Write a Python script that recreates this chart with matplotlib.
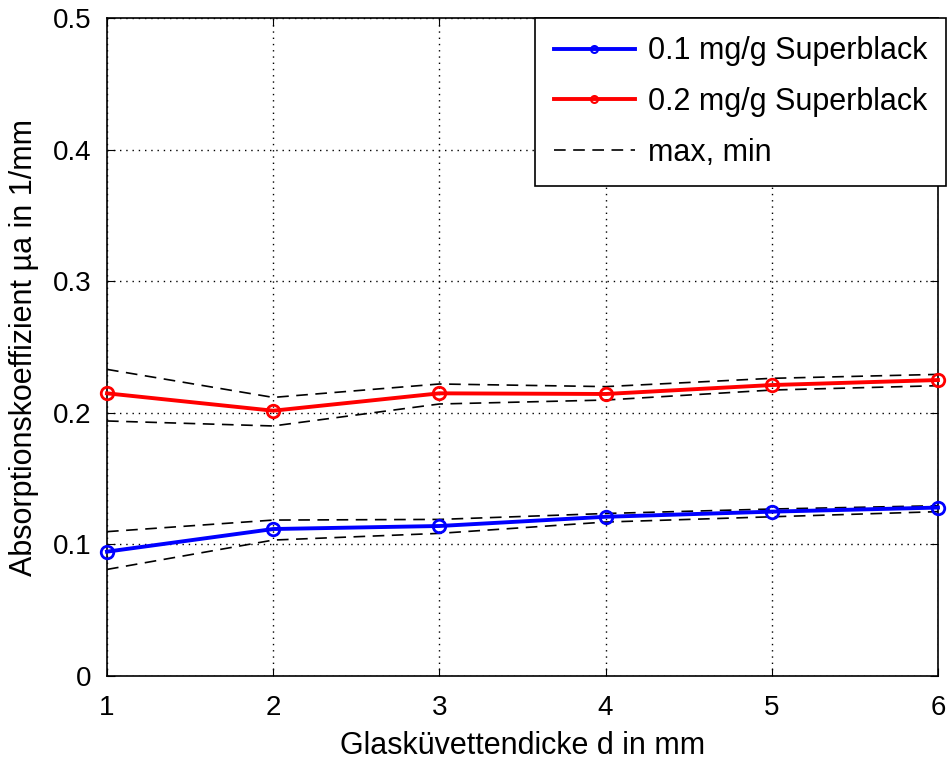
import matplotlib
matplotlib.use("Agg")
import matplotlib.pyplot as plt
from matplotlib.lines import Line2D

plt.rcParams['font.family'] = ['Liberation Sans', 'DejaVu Sans']

# Werte
d_mm = [1, 2, 3, 4, 5, 6]
mua_01 = [0.0945, 0.1117, 0.1140, 0.1210, 0.1249, 0.1280]
mua_01_max = [0.1097, 0.1185, 0.1190, 0.1235, 0.1269, 0.1294]
mua_01_min = [0.0810, 0.1033, 0.1084, 0.1170, 0.1210, 0.1249]
mua_02 = [0.2148, 0.2016, 0.2148, 0.2143, 0.2211, 0.2249]
mua_02_max = [0.2330, 0.2117, 0.2219, 0.2199, 0.2262, 0.2292]
mua_02_min = [0.1938, 0.1900, 0.2067, 0.2097, 0.2173, 0.2206]

fig = plt.figure(figsize=(9.51, 7.65), dpi=100)
ax = fig.add_axes([0.1125, 0.1163, 0.8738, 0.8602])

dash = (0, (7, 4.5))
for ys in [mua_01_max, mua_01_min, mua_02_max, mua_02_min]:
    ax.plot(d_mm, ys, color='black', linestyle=dash, linewidth=1.2, zorder=2)

ax.plot(d_mm, mua_01, color='blue', linewidth=2.8, marker='o', markersize=9,
        markerfacecolor='none', markeredgewidth=2, zorder=3, clip_on=False)
ax.plot(d_mm, mua_02, color='red', linewidth=2.8, marker='o', markersize=9,
        markerfacecolor='none', markeredgewidth=2, zorder=3, clip_on=False)

ax.set_xlim(1, 6)
ax.set_ylim(0, 0.5)
ax.set_xticks(d_mm)
ax.set_yticks([0, 0.1, 0.2, 0.3, 0.4, 0.5])
ax.set_yticklabels(['0', '0.1', '0.2', '0.3', '0.4', '0.5'])
ax.tick_params(labelsize=20, direction='in', length=6, top=True, right=True)
ax.tick_params(axis='x', pad=14)
ax.tick_params(axis='y', pad=11)
ax.grid(True, color='black', linestyle=(0, (1, 3.5)), linewidth=1)
for s in ax.spines.values():
    s.set_linewidth(1.2)

ax.set_xlabel('Glasküvettendicke d in mm', fontsize=22, labelpad=7)
ax.set_ylabel('Absorptionskoeffizient µa in 1/mm', fontsize=22, labelpad=10)

handles = [
    Line2D([], [], color='blue', linewidth=2.8, marker='o', markersize=5,
           markerfacecolor='none', markeredgewidth=1.5),
    Line2D([], [], color='red', linewidth=2.8, marker='o', markersize=5,
           markerfacecolor='none', markeredgewidth=1.5),
    Line2D([], [], color='black', linestyle=dash, linewidth=1.2),
]
labels = ['0.1 mg/g Superblack', '0.2 mg/g Superblack', 'max, min']
leg = ax.legend(handles, labels, loc='upper right',
                bbox_to_anchor=(946 / 951, 1 - 18 / 765),
                bbox_transform=fig.transFigure,
                fontsize=22, frameon=True, fancybox=False, edgecolor='black',
                framealpha=1, handlelength=2.65, handletextpad=0.45,
                borderpad=0.6, labelspacing=0.68, borderaxespad=0)
leg.get_frame().set_linewidth(1.2)

fig.savefig('out.png', dpi=100)
